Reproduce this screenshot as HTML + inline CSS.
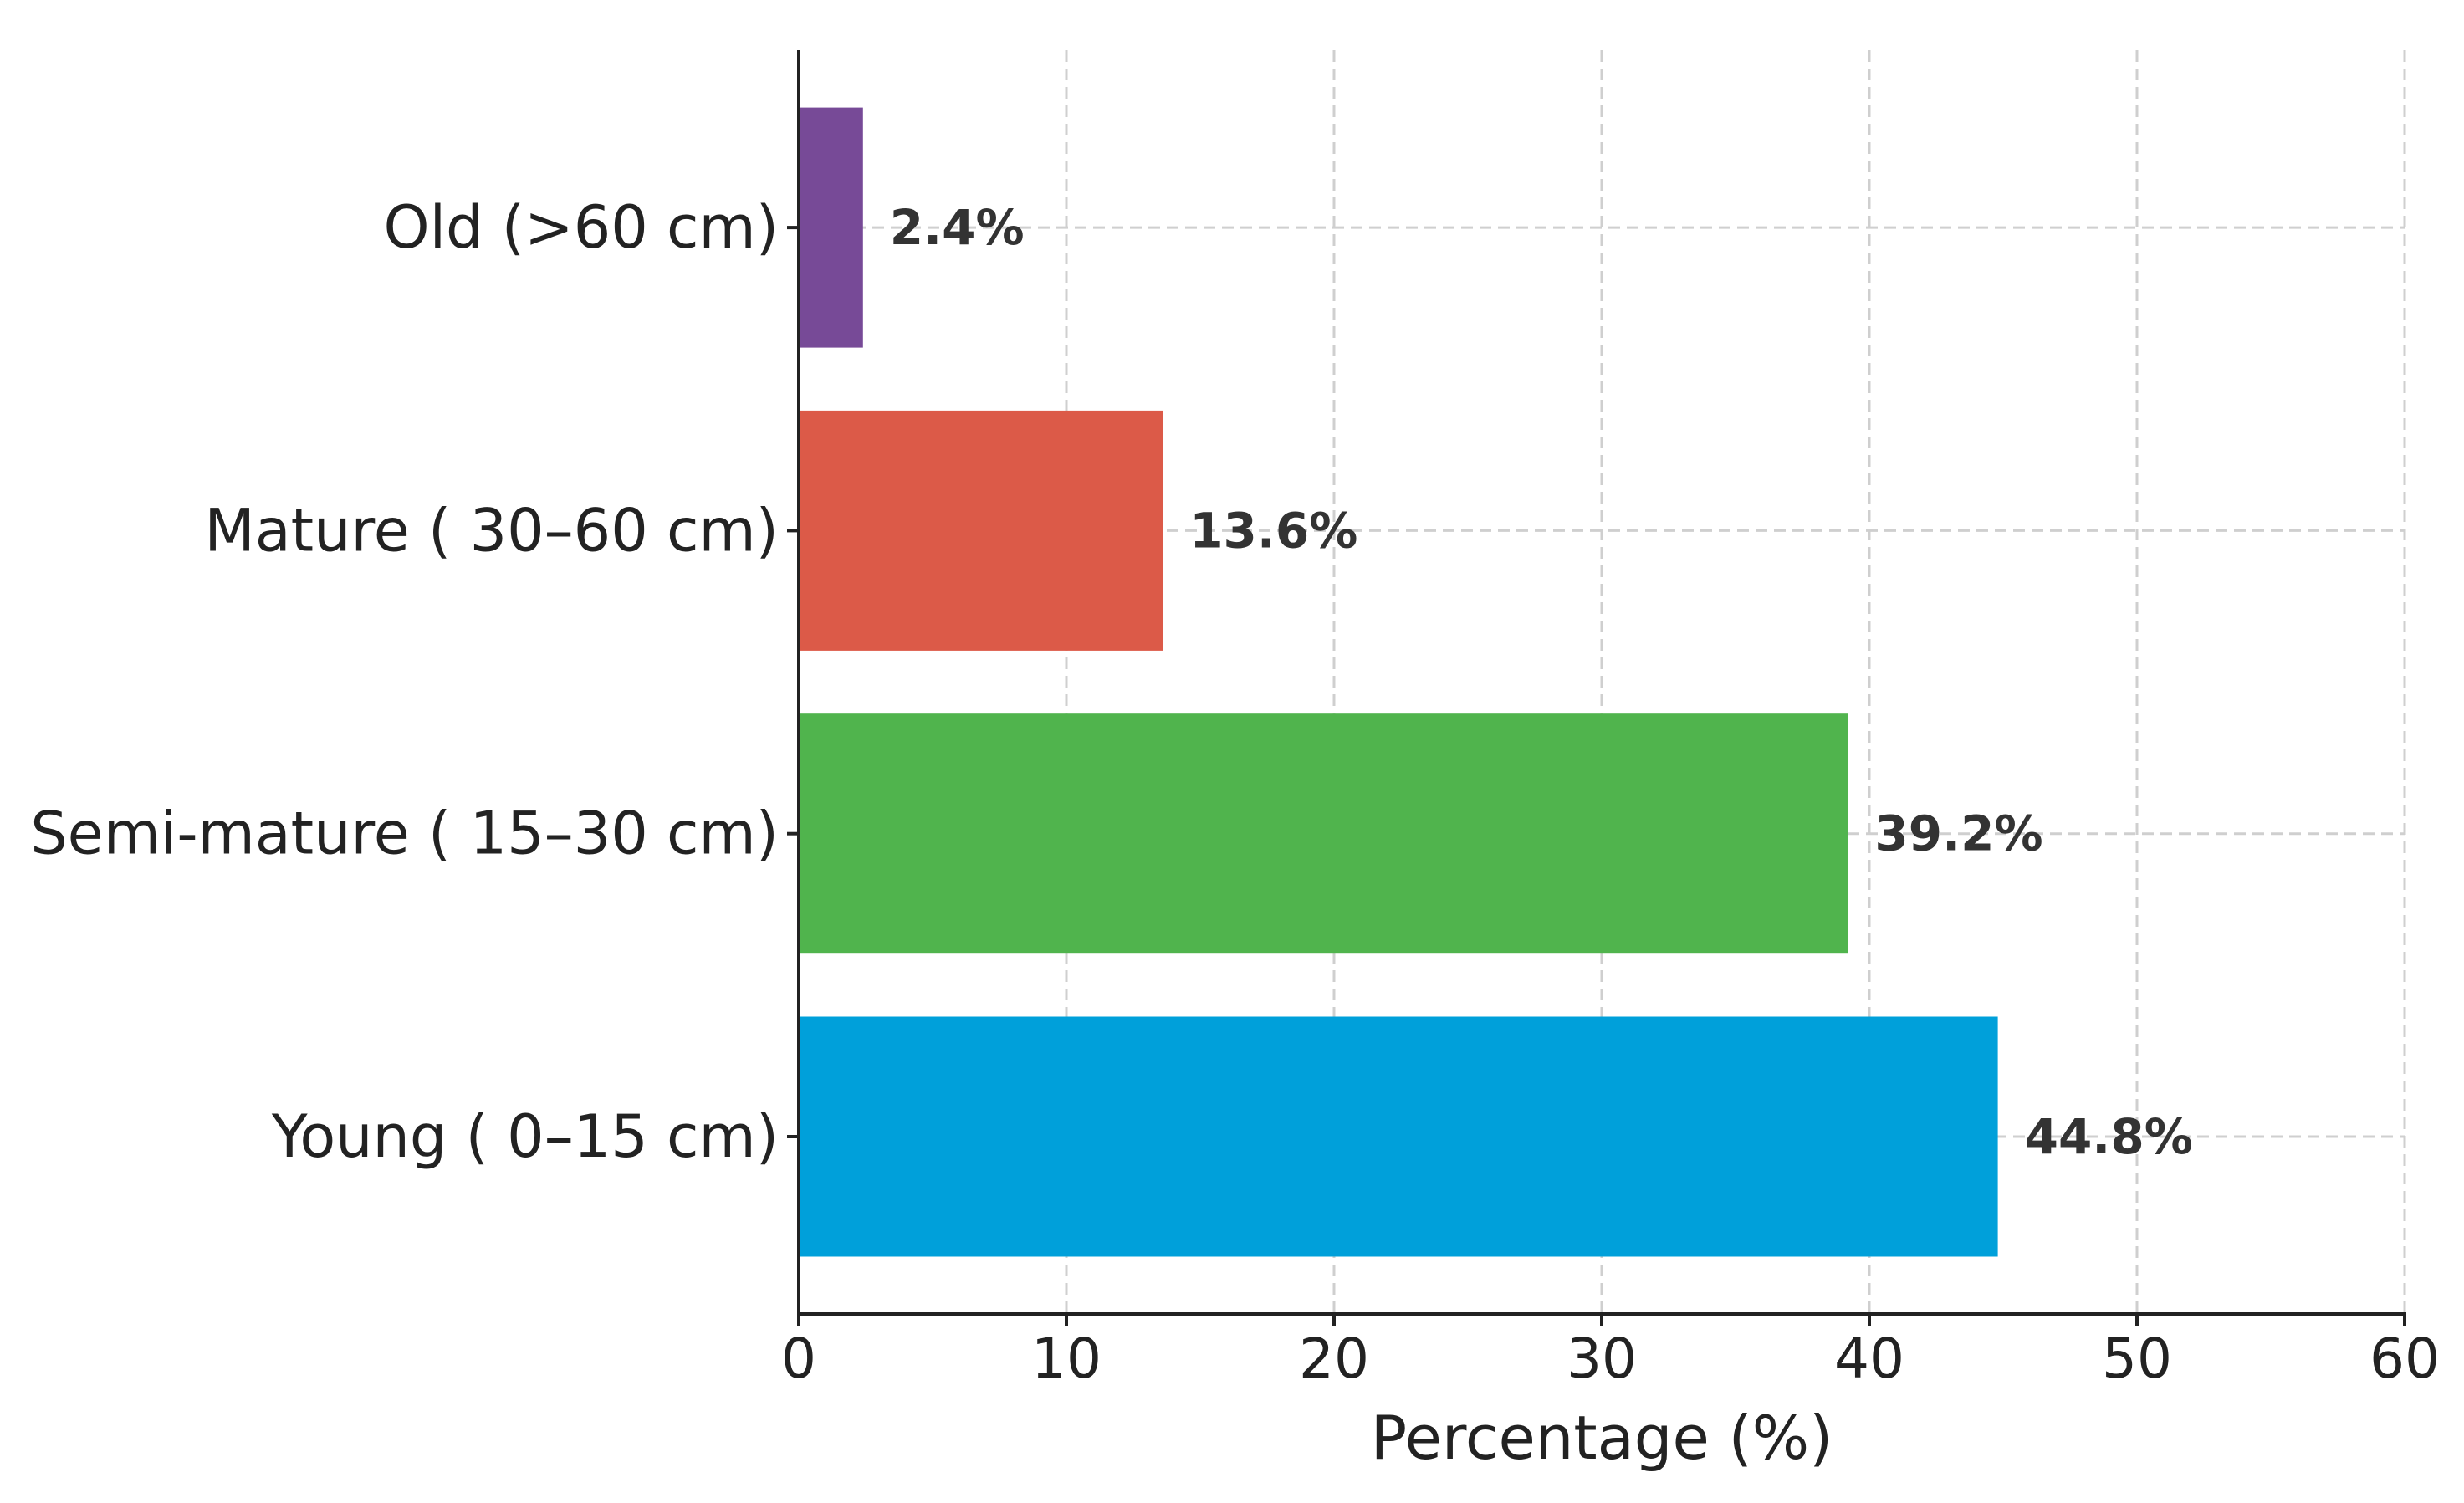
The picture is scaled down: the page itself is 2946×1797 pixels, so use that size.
<!DOCTYPE html>
<html><head><meta charset="utf-8"><style>
html,body{margin:0;padding:0;background:#fff;}
svg{display:block;font-family:"DejaVu Sans","Liberation Sans",sans-serif;}
</style></head><body>
<svg id="chart" width="2946" height="1797" viewBox="0 0 2946 1797" xmlns="http://www.w3.org/2000/svg"></svg>
<script>
const categories = ["Young ( 0\u201315 cm)", "Semi-mature ( 15\u201330 cm)", "Mature ( 30\u201360 cm)", "Old (>60 cm)"];
const values = [44.8, 39.2, 13.6, 2.4];
const valueLabels = ["44.8%", "39.2%", "13.6%", "2.4%"];
const barColors = ["#00a0da", "#50b44d", "#dc5a48", "#774a97"];
const xTicks = [0, 10, 20, 30, 40, 50, 60];

const svg = document.getElementById('chart');
const NS = 'http://www.w3.org/2000/svg';
const X0 = 955, X1 = 2875, YTOP = 60, YBOT = 1571;
const xMax = 60;
function xs(v){ return X0 + (v / xMax) * (X1 - X0); }
const bandStart = 1359, bandStep = 362.3, barH = 287;
function ys(i){ return bandStart - i * bandStep; }
function el(tag, attrs, parent){ const e = document.createElementNS(NS, tag); for (const k in attrs) e.setAttribute(k, attrs[k]); (parent||svg).appendChild(e); return e; }

xTicks.forEach((t) => {
  if (t === 0) return;
  const g = el('line', {x1: xs(t), x2: xs(t), y1: YTOP, y2: YBOT, stroke: '#cfcfcf', 'stroke-width': 3, 'stroke-dasharray': '14,8'});
  
  
});
categories.forEach((c, i) => {
  const g = el('line', {x1: X0, x2: X1, y1: ys(i), y2: ys(i), stroke: '#cfcfcf', 'stroke-width': 3, 'stroke-dasharray': '14,8'});
  
  
});

categories.forEach((c, i) => {
  const r = el('rect', {x: X0, y: ys(i) - barH/2, width: xs(values[i]) - X0, height: barH, fill: barColors[i]});
  
  
  const t = el('text', {x: xs(values[i]) + 32, y: ys(i) + 20, 'font-size': 58, 'font-weight': 'bold', fill: '#333'});
  t.textContent = valueLabels[i];
  
  
  const l = el('text', {x: X0 - 24, y: ys(i) + 24, 'font-size': 70, fill: '#222', 'text-anchor': 'end'});
  l.textContent = c;
  
  
  const tk = el('line', {x1: X0 - 14, x2: X0, y1: ys(i), y2: ys(i), stroke: '#222', 'stroke-width': 4});
  
  
});

const ya = el('line', {x1: X0, x2: X0, y1: YTOP, y2: YBOT + 2, stroke: '#222', 'stroke-width': 4});


const xa = el('line', {x1: X0 - 2, x2: X1 + 2, y1: YBOT, y2: YBOT, stroke: '#222', 'stroke-width': 4});


xTicks.forEach((t) => {
  const tk = el('line', {x1: xs(t), x2: xs(t), y1: YBOT, y2: YBOT + 14, stroke: '#222', 'stroke-width': 4});
  
  
  const lb = el('text', {x: xs(t), y: YBOT + 76, 'font-size': 66, fill: '#222', 'text-anchor': 'middle'});
  lb.textContent = t;
  
  
});
const xt = el('text', {x: (X0 + X1) / 2, y: 1744, 'font-size': 72, fill: '#222', 'text-anchor': 'middle'});
xt.textContent = 'Percentage (%)';


</script>
</body></html>
